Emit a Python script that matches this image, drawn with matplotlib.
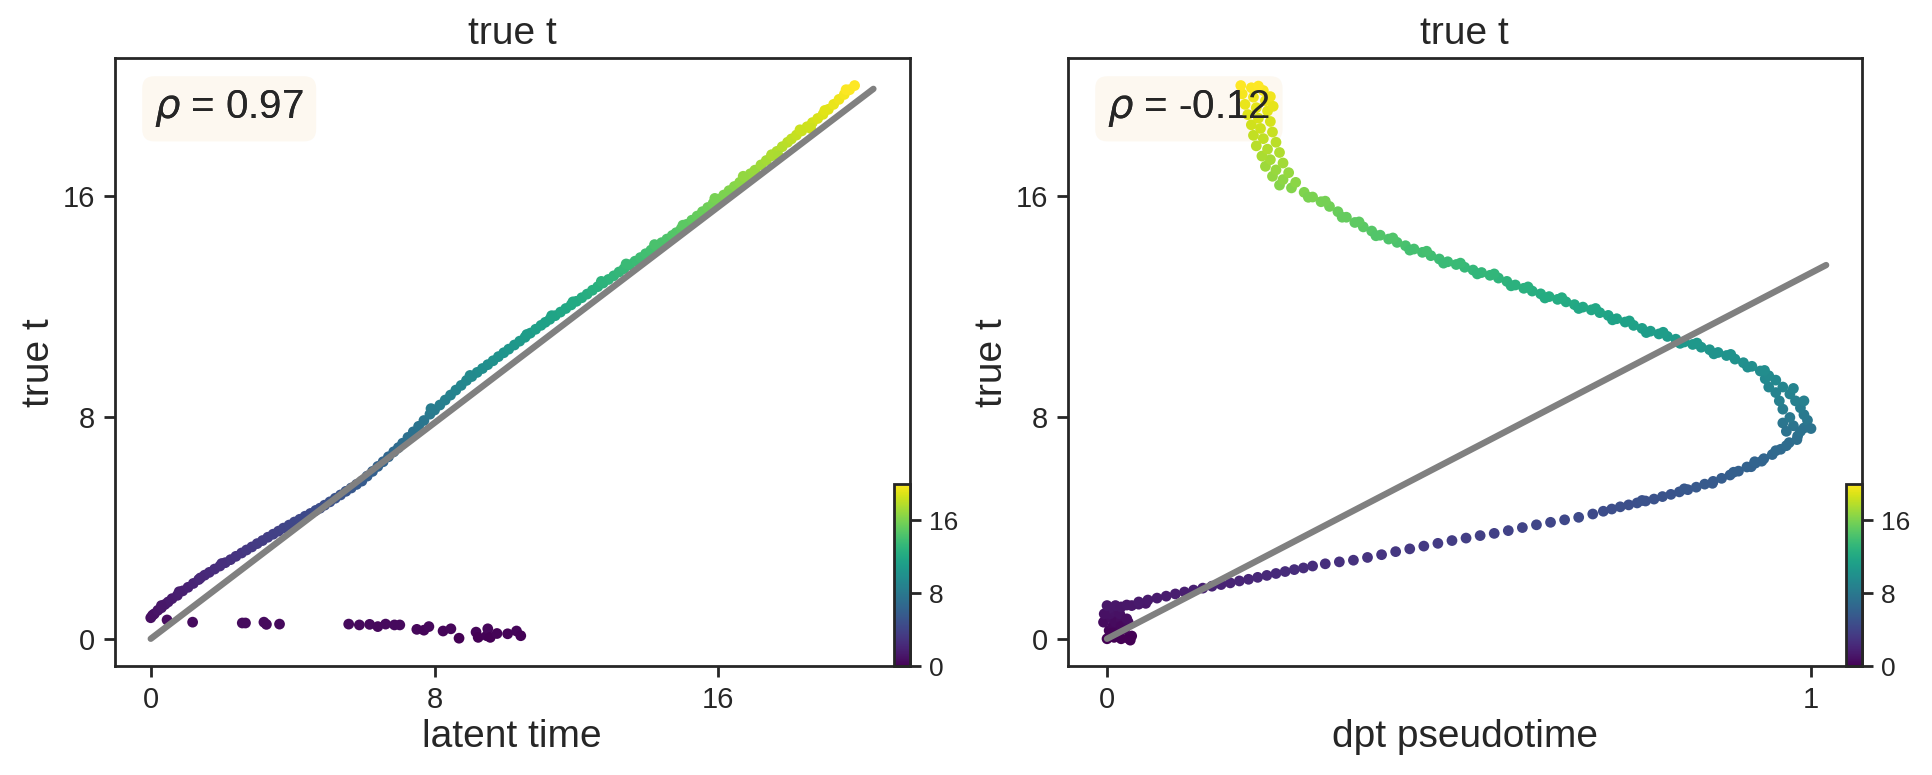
import numpy as np
import matplotlib
matplotlib.use("Agg")
import matplotlib.pyplot as plt

plt.rcParams['font.family'] = ['Liberation Sans', 'DejaVu Sans']

# ---------------- data: left panel (latent time vs true t) ----------------
lat_main = [0.0, 0.05, 0.1, 0.2, 0.3, 0.4, 0.49,
            0.6, 0.75, 0.9, 1.05, 1.2, 1.35, 1.52,
            1.65, 1.8, 1.95, 2.1, 2.25, 2.4, 2.56,
            2.7, 2.85, 3.0, 3.15, 3.3, 3.45, 3.6, 3.74,
            3.9, 4.05, 4.2, 4.35, 4.5, 4.65, 4.77,
            4.9, 5.05, 5.2, 5.35, 5.5, 5.65, 5.8, 5.95,
            6.1, 6.25, 6.4, 6.55, 6.7, 6.85, 6.98,
            7.1, 7.25, 7.4, 7.55, 7.7, 7.87,
            8.0, 8.15, 8.3, 8.45, 8.6, 8.75, 8.9,
            9.05, 9.2, 9.35, 9.5, 9.65, 9.8, 9.95, 10.09,
            10.25, 10.4, 10.55, 10.7, 10.85, 11.0, 11.12,
            11.25, 11.4, 11.55, 11.7, 11.85, 12.0, 12.15,
            12.3, 12.45, 12.6, 12.75, 12.9, 13.05, 13.2, 13.34,
            13.5, 13.65, 13.8, 13.95, 14.1, 14.25, 14.4, 14.55, 14.7, 14.81,
            14.95, 15.1, 15.25, 15.4, 15.55, 15.7, 15.85, 16.0,
            16.15, 16.3, 16.45, 16.6, 16.75, 16.9, 17.03,
            17.2, 17.35, 17.5, 17.65, 17.8, 17.95, 18.06,
            18.2, 18.35, 18.5, 18.65, 18.8, 18.95,
            19.1, 19.25, 19.4, 19.55, 19.7, 19.84]
true_main = [0.76, 0.85, 0.9, 1.03, 1.12, 1.24, 1.33,
             1.45, 1.57, 1.73, 1.86, 2.0, 2.14, 2.30,
             2.40, 2.52, 2.63, 2.75, 2.86, 2.98, 3.10,
             3.21, 3.32, 3.44, 3.55, 3.67, 3.78, 3.89, 4.0,
             4.11, 4.22, 4.32, 4.43, 4.53, 4.64, 4.72,
             4.83, 4.95, 5.08, 5.20, 5.33, 5.45, 5.58, 5.70,
             5.88, 6.05, 6.23, 6.40, 6.58, 6.76, 6.91,
             7.07, 7.28, 7.48, 7.68, 7.89, 8.12,
             8.27, 8.45, 8.63, 8.81, 8.99, 9.16, 9.34,
             9.48, 9.63, 9.77, 9.91, 10.05, 10.20, 10.34, 10.47,
             10.62, 10.76, 10.90, 11.05, 11.19, 11.33, 11.44,
             11.55, 11.68, 11.81, 11.94, 12.07, 12.20, 12.33,
             12.46, 12.60, 12.73, 12.86, 12.99, 13.12, 13.26, 13.38,
             13.52, 13.65, 13.78, 13.92, 14.05, 14.18, 14.32, 14.45, 14.58, 14.68,
             14.82, 14.98, 15.13, 15.28, 15.44, 15.59, 15.74, 15.89,
             16.04, 16.20, 16.35, 16.50, 16.66, 16.81, 16.94,
             17.13, 17.29, 17.46, 17.62, 17.79, 17.95, 18.07,
             18.21, 18.36, 18.51, 18.66, 18.81, 18.96,
             19.14, 19.32, 19.50, 19.68, 19.85, 20.0]
lat_jit = [11.3, 11.9, 12.7, 13.4, 14.2, 15.0, 15.9, 16.7, 17.5, 18.3, 19.0,
           19.6, 17.7, 18.6, 16.3, 9.0, 7.9, 10.6, 0.3, 0.8, 1.4, 2.0]
true_jit = [11.68, 12.18, 12.92, 13.55, 14.25, 14.95, 15.92, 16.72, 17.5, 18.4,
            19.1, 19.85, 17.45, 18.45, 16.05, 9.52, 8.32, 11.0, 1.2, 1.7, 2.2, 2.72]
lat_out = [0.46, 1.18, 2.58, 2.67, 3.19, 3.26, 3.63, 5.58, 5.88, 6.17, 6.40,
           6.62, 6.87, 7.02, 7.50, 7.70, 7.84, 8.24, 8.46, 8.69, 9.17, 9.23,
           9.47, 9.50, 9.57, 9.76, 10.06, 10.31, 10.43]
true_out = [0.68, 0.60, 0.57, 0.57, 0.60, 0.52, 0.53, 0.53, 0.50, 0.52, 0.44,
            0.53, 0.50, 0.50, 0.34, 0.31, 0.44, 0.28, 0.36, 0.02, 0.24, 0.05,
            0.11, 0.36, 0.05, 0.19, 0.18, 0.28, 0.11]
line_left_x = [0.0, 20.37]
line_left_y = [0.0, 19.88]
rho_left = "0.97"

# ---------------- data: right panel (dpt pseudotime vs true t) ----------------
dpt_origin = [0.0, 0.005, 0.01, 0.02, 0.03, 0.035, 0.003, 0.008, 0.015, 0.025,
              -0.005, 0.006, 0.012, 0.02, 0.004, 0.01, 0.018, 0.003, 0.012, 0.02,
              0.028, 0.035, 0.02, 0.03, 0.006, -0.004, 0.0, 0.028, 0.033, 0.045, 0.055]
true_origin = [0.0, 0.1, 0.05, 0.0, 0.02, 0.1, 0.3, 0.45, 0.25, 0.35,
               0.6, 0.75, 0.6, 0.7, 0.9, 1.0, 0.9, 1.1, 1.2, 1.15,
               1.22, 1.2, 0.45, 0.6, 0.2, 0.9, 1.2, 0.72, -0.05, 1.25, 1.28]
dpt_lower = [0.045, 0.058, 0.071, 0.084, 0.097, 0.110, 0.123, 0.136, 0.149, 0.162,
             0.175, 0.188, 0.201, 0.214, 0.227, 0.240, 0.253, 0.266, 0.279, 0.292,
             0.31, 0.33, 0.35, 0.37, 0.39, 0.41, 0.43, 0.45, 0.47, 0.49,
             0.51, 0.53, 0.55, 0.57, 0.59, 0.61, 0.63, 0.65, 0.67, 0.69,
             0.705, 0.717, 0.729, 0.741, 0.753, 0.765, 0.777, 0.789, 0.801, 0.813,
             0.825, 0.837, 0.849, 0.861, 0.873, 0.885, 0.897, 0.909, 0.921, 0.933,
             0.945, 0.957, 0.969, 0.981, 0.990,
             0.76, 0.82, 0.86, 0.89, 0.915, 0.93, 0.95, 0.965, 0.98, 0.92]
true_lower = [1.33, 1.40, 1.47, 1.54, 1.62, 1.69, 1.76, 1.83, 1.90, 1.96,
              2.02, 2.09, 2.15, 2.22, 2.29, 2.36, 2.43, 2.50, 2.56, 2.63,
              2.71, 2.78, 2.84, 2.94, 3.04, 3.15, 3.25, 3.35, 3.45, 3.55,
              3.64, 3.73, 3.81, 3.91, 4.02, 4.12, 4.21, 4.30, 4.39, 4.51,
              4.61, 4.69, 4.77, 4.84, 4.91, 4.98, 5.05, 5.14, 5.22, 5.31,
              5.39, 5.48, 5.59, 5.69, 5.80, 5.92, 6.06, 6.21, 6.35, 6.51,
              6.66, 6.85, 7.09, 7.33, 7.62,
              5.0, 5.42, 5.62, 6.02, 6.22, 6.42, 6.8, 6.98, 7.2, 6.4]
dpt_turn = [0.995, 0.99, 0.985, 0.978, 0.97, 0.96, 0.95, 0.975, 0.96, 0.97,
            0.96, 0.955, 0.95, 0.94, 0.935, 1.0, 0.985, 0.99, 0.975, 0.965]
true_turn = [7.9, 8.1, 8.35, 8.6, 8.85, 9.1, 9.35, 7.7, 7.8, 8.0,
             8.3, 8.6, 8.9, 9.1, 9.4, 7.6, 7.5, 8.6, 9.05, 7.5]
dpt_upper = [0.940, 0.928, 0.916, 0.904, 0.892, 0.880, 0.868, 0.856, 0.844, 0.832,
             0.820, 0.808, 0.796, 0.784, 0.772, 0.760, 0.748, 0.736, 0.724, 0.712,
             0.700, 0.688, 0.676, 0.664, 0.652, 0.640, 0.628, 0.616, 0.604, 0.592,
             0.580, 0.568, 0.556, 0.544, 0.532, 0.520, 0.508, 0.496, 0.484, 0.472,
             0.460, 0.448, 0.436, 0.424, 0.412, 0.400, 0.388, 0.376, 0.364, 0.352,
             0.340, 0.328, 0.316, 0.304, 0.292, 0.280,
             0.934, 0.91, 0.886, 0.862, 0.838, 0.814, 0.79, 0.766, 0.742, 0.718,
             0.694, 0.67, 0.646, 0.622, 0.598, 0.574, 0.55, 0.526, 0.502, 0.478,
             0.454, 0.43, 0.406, 0.382, 0.358, 0.334, 0.31, 0.286]
true_upper = [9.51, 9.68, 9.85, 9.98, 10.11, 10.24, 10.35, 10.45, 10.54, 10.64,
              10.73, 10.83, 10.93, 11.02, 11.12, 11.22, 11.33, 11.45, 11.57, 11.69,
              11.79, 11.89, 11.99, 12.08, 12.18, 12.27, 12.37, 12.47, 12.57, 12.67,
              12.79, 12.92, 13.04, 13.14, 13.24, 13.33, 13.43, 13.53, 13.63, 13.73,
              13.85, 13.97, 14.09, 14.21, 14.33, 14.45, 14.59, 14.74, 14.89, 15.05,
              15.24, 15.44, 15.63, 15.80, 15.97, 16.14,
              9.70, 9.82, 10.28, 10.30, 10.69, 10.68, 11.08, 11.07, 11.49, 11.53,
              11.94, 11.94, 12.33, 12.32, 12.72, 12.76, 13.19, 13.19, 13.58, 13.58,
              14.01, 14.05, 14.49, 14.57, 15.07, 15.24, 15.82, 15.96]
dpt_top = [0.262, 0.245, 0.268, 0.250, 0.235, 0.258, 0.240, 0.225, 0.250, 0.232,
           0.220, 0.245, 0.228, 0.212, 0.240, 0.222, 0.208, 0.235, 0.218, 0.205,
           0.232, 0.215, 0.200, 0.228, 0.212, 0.196, 0.225, 0.208, 0.192, 0.222,
           0.205, 0.190, 0.215, 0.232, 0.236]
true_top = [16.30, 16.40, 16.50, 16.60, 16.72, 16.85, 16.95, 17.08, 17.20, 17.32,
            17.45, 17.58, 17.70, 17.82, 17.95, 18.08, 18.20, 18.32, 18.45, 18.58,
            18.70, 18.82, 18.95, 19.08, 19.20, 19.32, 19.45, 19.58, 19.70, 19.82,
            19.92, 20.00, 19.98, 19.60, 19.25]
line_right_x = [0.0, 1.0215]
line_right_y = [0.0, 13.51]
rho_right = "-0.12"

ticks_true = [0, 8, 16]
ticks_latent = [0, 8, 16]
ticks_dpt = [0, 1]

# ---------------- assemble ----------------
left_x = np.array(lat_main + lat_jit + lat_out)
left_y = np.array(true_main + true_jit + true_out)
right_x = np.array(dpt_origin + dpt_lower + dpt_turn + dpt_upper + dpt_top)
right_y = np.array(true_origin + true_lower + true_turn + true_upper + true_top)

DARK = '#262626'
fig = plt.figure(figsize=(19.32, 7.75), dpi=100)
ax1 = fig.add_axes([0.0593, 0.1401, 0.4115, 0.7852])
ax2 = fig.add_axes([0.5526, 0.1401, 0.4110, 0.7852])

vmin, vmax = 0.0, 20.0

def panel(ax, x, y, lx, ly, rho, xlabel, xticks, xlim):
    sc = ax.scatter(x, y, c=y, cmap='viridis', vmin=vmin, vmax=vmax, s=60,
                    linewidths=0, zorder=2)
    ax.plot(lx, ly, color='#808080', lw=4.6, solid_capstyle='round', zorder=3)
    ax.set_xlim(*xlim)
    ax.set_ylim(-1.0, 21.0)
    ax.set_xticks(xticks)
    ax.set_yticks(ticks_true)
    ax.set_xlabel(xlabel, fontsize=28, color=DARK)
    ax.set_ylabel('true t', fontsize=28, color=DARK)
    ax.set_title('true t', fontsize=28, color=DARK, pad=10)
    ax.tick_params(axis='both', labelsize=21, length=8, width=2, colors=DARK,
                   direction='out', pad=6)
    for sp in ax.spines.values():
        sp.set_linewidth(2)
        sp.set_color(DARK)
    label = r'$\rho$' + ' = ' + rho
    ax.text(0.05, 0.95, label, transform=ax.transAxes, ha='left', va='top',
            fontsize=29, color=DARK, zorder=1,
            bbox=dict(boxstyle='round,pad=0.3', facecolor='#FDF8F0',
                      edgecolor='none'))
    ax.text(0.05, 0.95, label, transform=ax.transAxes, ha='left', va='top',
            fontsize=29, color=DARK, zorder=6)
    cax = ax.inset_axes([0.98, 0.0, 0.02, 0.3])
    cb = fig.colorbar(sc, cax=cax, ticks=ticks_true)
    cb.outline.set_linewidth(2)
    cb.outline.set_edgecolor(DARK)
    cax.tick_params(labelsize=19, length=8, width=2, colors=DARK, pad=6)
    return sc

panel(ax1, left_x, left_y, line_left_x, line_left_y, rho_left,
      'latent time', ticks_latent, (-1.02, 21.39))
panel(ax2, right_x, right_y, line_right_x, line_right_y, rho_right,
      'dpt pseudotime', ticks_dpt, (-0.056, 1.072))

fig.savefig('out.png', dpi=100, facecolor='white')
